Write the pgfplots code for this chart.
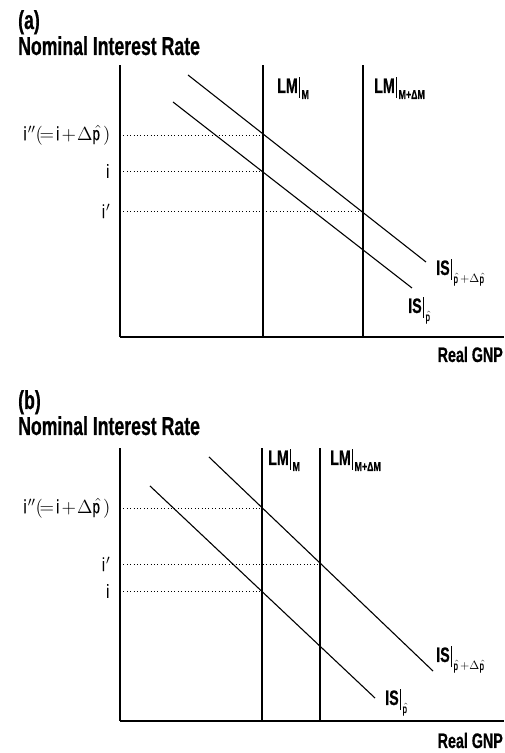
\documentclass[border=0pt]{standalone}
\usepackage{pgfplots}
\pgfplotsset{compat=1.18}
\usepackage{fontspec}
\setmainfont{Liberation Sans}[FakeStretch=0.68, FakeBold=0.6]
\newcommand{\ttl}{\fontsize{26}{28}\selectfont\bfseries}
\newcommand{\lab}{\fontsize{21}{23}\selectfont\bfseries}
\newcommand{\vbar}[1]{\kern1pt\rule[-5pt]{1.3pt}{21pt}\kern1.5pt\raisebox{-6pt}{\fontsize{13}{14}\selectfont\bfseries #1}}
\newcommand{\vbarm}[1]{\kern1pt\rule[-5pt]{1.3pt}{21pt}\kern1.5pt\raisebox{-8pt}{\scalebox{1.2}{\fontsize{10}{12}\selectfont $#1$}}}
\newcommand{\tl}[1]{\scalebox{1.32}{\fontsize{14.4}{16}\selectfont $#1$}}
\pgfplotsset{
  lmstyle/.style={black, line width=1.1pt},
  dotstyle/.style={black, line width=0.7pt, dash pattern=on 0.8pt off 2.6pt},
  common/.style={
    scale only axis, width=384pt, clip=false,
    xmin=120, xmax=504,
    axis x line=bottom, axis y line=left,
    axis line style={-, line width=2.4pt},
    xtick=\empty, major tick length=0pt,
    yticklabel style={xshift=-6pt},
  }
}
\begin{document}
\begin{tikzpicture}
\useasboundingbox (0,0) rectangle (504pt,753pt);
% ---------------- panel (a)
\begin{axis}[common,
  at={(120pt,416pt)}, anchor=south west,
  height=272pt, ymin=416, ymax=688,
  ytick={542,582,618},
  yticklabels={{\tl{\mathrm{i}'}\hspace{10pt}},{\tl{\mathrm{i}}\hspace{12pt}},{\tl{\mathrm{i}''(\!=\!\mathrm{i}\!+\!\Delta\hat{\mathrm{p}})}}},
]
\addplot[lmstyle] coordinates {(188,678) (426,491)};
\addplot[lmstyle] coordinates {(173,651) (412,465)};
\addplot[lmstyle] coordinates {(263,416) (263,688)};
\addplot[lmstyle] coordinates {(363,416) (363,688)};
\addplot[dotstyle] coordinates {(120,618) (263,618)};
\addplot[dotstyle] coordinates {(120,582) (263,582)};
\addplot[dotstyle] coordinates {(120,542) (363,542)};
\node[anchor=base west, inner sep=0pt] at (axis cs:18,724) {\ttl (a)};
\node[anchor=base west, inner sep=0pt] at (axis cs:18,698) {\ttl Nominal Interest Rate};
\node[anchor=base west, inner sep=0pt] at (axis cs:277,660) {\lab LM\vbar{M}};
\node[anchor=base west, inner sep=0pt] at (axis cs:374,660) {\lab LM\vbar{M+ΔM}};
\node[anchor=base west, inner sep=0pt] at (axis cs:436,478) {\lab IS\vbarm{\hat{\mathrm{p}}{+}\Delta\hat{\mathrm{p}}}};
\node[anchor=base west, inner sep=0pt] at (axis cs:408,440) {\lab IS\vbarm{\hat{\mathrm{p}}}};
\node[anchor=base east, inner sep=0pt] at (axis cs:503,391) {\lab Real GNP};
\end{axis}
% ---------------- panel (b)
\begin{axis}[common,
  at={(120pt,32pt)}, anchor=south west,
  height=273pt, ymin=32, ymax=305,
  ytick={162,189,245},
  yticklabels={{\tl{\mathrm{i}}\hspace{12pt}},{\tl{\mathrm{i}'}\hspace{10pt}},{\tl{\mathrm{i}''(\!=\!\mathrm{i}\!+\!\Delta\hat{\mathrm{p}})}}},
]
\addplot[lmstyle] coordinates {(209,296) (433,82)};
\addplot[lmstyle] coordinates {(150,267) (375,55)};
\addplot[lmstyle] coordinates {(262,32) (262,305)};
\addplot[lmstyle] coordinates {(320,32) (320,305)};
\addplot[dotstyle] coordinates {(120,245) (262,245)};
\addplot[dotstyle] coordinates {(120,189) (320,189)};
\addplot[dotstyle] coordinates {(120,162) (262,162)};
\node[anchor=base west, inner sep=0pt] at (axis cs:18,344) {\ttl (b)};
\node[anchor=base west, inner sep=0pt] at (axis cs:18,318) {\ttl Nominal Interest Rate};
\node[anchor=base west, inner sep=0pt] at (axis cs:268,288) {\lab LM\vbar{M}};
\node[anchor=base west, inner sep=0pt] at (axis cs:330,288) {\lab LM\vbar{M+ΔM}};
\node[anchor=base west, inner sep=0pt] at (axis cs:436,91) {\lab IS\vbarm{\hat{\mathrm{p}}{+}\Delta\hat{\mathrm{p}}}};
\node[anchor=base west, inner sep=0pt] at (axis cs:385,48) {\lab IS\vbarm{\hat{\mathrm{p}}}};
\node[anchor=base east, inner sep=0pt] at (axis cs:503,5) {\lab Real GNP};
\end{axis}
\end{tikzpicture}
\end{document}
